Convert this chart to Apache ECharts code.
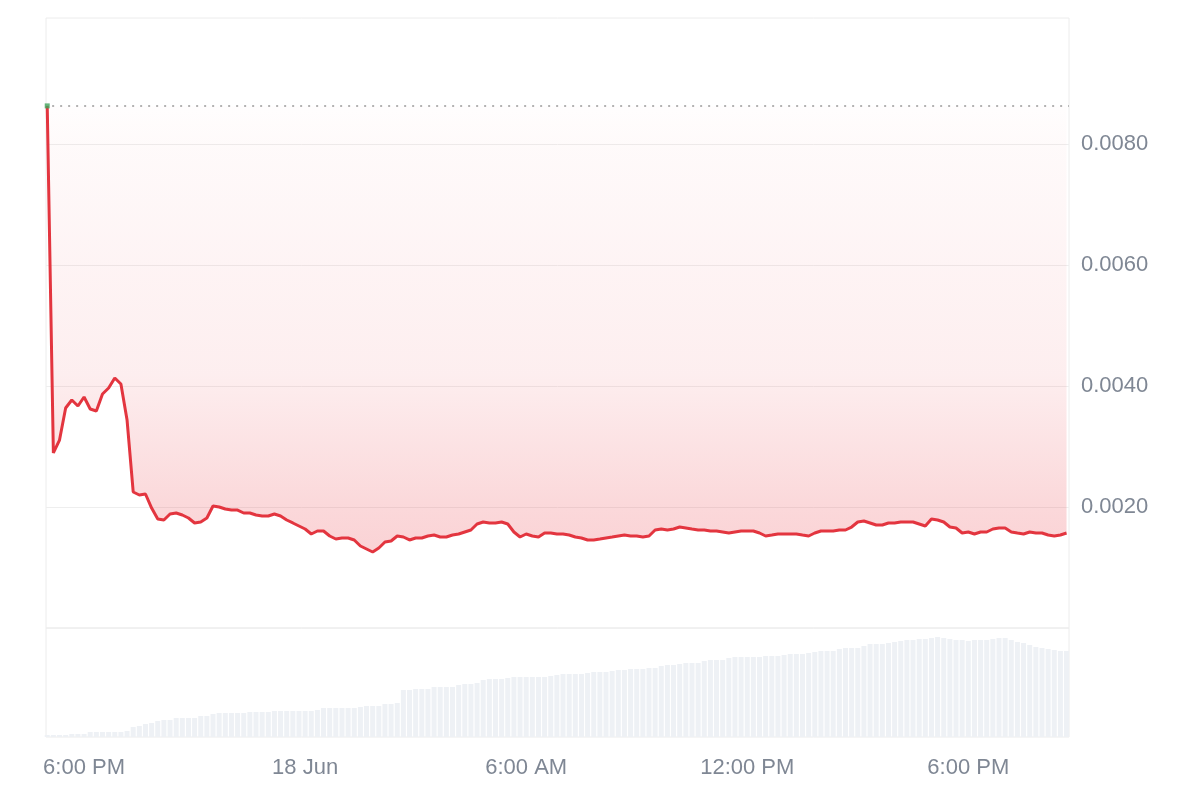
<!DOCTYPE html>
<html>
<head>
<meta charset="utf-8">
<script src="https://cdn.jsdelivr.net/npm/echarts@6/dist/echarts.min.js"></script>
<style>
html,body{margin:0;padding:0;background:#fff;}
#chart{width:1197px;height:798px;}
</style>
</head>
<body>
<div id="chart"></div>
<script>
// ---- data ----
const startTime = '2024-06-17T17:00:00Z';
const stepMinutes = 10;
const prices = [
0.00863, 0.002893, 0.003107, 0.003636, 0.003769, 0.003669, 0.003818, 0.003620, 0.003587, 0.003868,
0.003967, 0.004132, 0.004033, 0.003438, 0.002248, 0.002198, 0.002215, 0.001983, 0.001802, 0.001785,
0.001884, 0.001901, 0.001868, 0.001818, 0.001736, 0.001752, 0.001818, 0.002017, 0.002000, 0.001967,
0.001950, 0.001950, 0.001901, 0.001901, 0.001868, 0.001851, 0.001851, 0.001884, 0.001851, 0.001785,
0.001736, 0.001686, 0.001636, 0.001554, 0.001603, 0.001603, 0.001521, 0.001471, 0.001488, 0.001488,
0.001455, 0.001355, 0.001306, 0.001256, 0.001322, 0.001421, 0.001438, 0.001521, 0.001504, 0.001455,
0.001488, 0.001488, 0.001521, 0.001537, 0.001504, 0.001504, 0.001537, 0.001554, 0.001587, 0.001620,
0.001719, 0.001752, 0.001736, 0.001736, 0.001752, 0.001719, 0.001587, 0.001504, 0.001554, 0.001521,
0.001504, 0.001570, 0.001570, 0.001554, 0.001554, 0.001537, 0.001504, 0.001488, 0.001455, 0.001455,
0.001471, 0.001488, 0.001504, 0.001521, 0.001537, 0.001521, 0.001521, 0.001504, 0.001521, 0.001620,
0.001636, 0.001620, 0.001636, 0.001669, 0.001653, 0.001636, 0.001620, 0.001620, 0.001603, 0.001603,
0.001587, 0.001570, 0.001587, 0.001603, 0.001603, 0.001603, 0.001570, 0.001521, 0.001537, 0.001554,
0.001554, 0.001554, 0.001554, 0.001537, 0.001521, 0.001570, 0.001603, 0.001603, 0.001603, 0.001620,
0.001620, 0.001669, 0.001752, 0.001769, 0.001736, 0.001702, 0.001702, 0.001736, 0.001736, 0.001752,
0.001752, 0.001752, 0.001719, 0.001686, 0.001802, 0.001785, 0.001752, 0.001669, 0.001653, 0.001570,
0.001587, 0.001554, 0.001587, 0.001587, 0.001636, 0.001653, 0.001653, 0.001587, 0.001570, 0.001554,
0.001587, 0.001570, 0.001570, 0.001537, 0.001521, 0.001537, 0.001570
];
// volume, in units of 10K USD
const volumes = [
2,2,2,2,3,3,3,5,5,5,
5,5,5,6,10,11,13,14,16,17,
17,19,19,19,19,21,21,23,24,24,
24,24,24,25,25,25,25,26,26,26,
26,26,26,26,27,29,29,29,29,29,
29,30,31,31,31,33,33,34,47,47,
48,48,48,50,50,50,50,52,53,53,
54,57,58,58,58,59,60,60,60,60,
60,60,61,62,63,63,63,63,64,65,
65,65,66,67,67,68,68,68,69,69,
71,72,72,73,74,74,74,76,77,77,
77,79,80,80,80,80,80,81,81,81,
82,83,83,83,84,85,86,86,86,88,
89,89,89,91,93,93,93,94,95,96,
97,97,98,98,99,100,99,98,97,97,
96,97,97,97,98,99,99,97,95,94,
92,90,89,88,87,86,86
];
const tickTimes = ['2024-06-17T18:00:00Z','2024-06-18T00:00:00Z','2024-06-18T06:00:00Z','2024-06-18T12:00:00Z','2024-06-18T18:00:00Z'];
const tickLabels = ['6:00 PM','18 Jun','6:00 AM','12:00 PM','6:00 PM'];
const priceTicks = [0.002, 0.004, 0.006, 0.008];

// ---- build ----
const t0 = Date.parse(startTime);
const step = stepMinutes * 60000;
const times = prices.map((_, i) => t0 + i * step);
const priceData = prices.map((p, i) => [times[i], p]);
const volData = volumes.map((v, i) => [times[i], v]);
const tickVals = tickTimes.map(t => Date.parse(t));
const startPrice = prices[0];
const xMin = t0 - 2 * 60000;
const xMax = t0 + 1664 * 60000;
const baseLine = [[t0 + 8 * 60000, startPrice], [xMax, startPrice]];

const labelColor = '#7f8794';
const lineColor = '#e3353f';
const font = 'Liberation Sans, Arial, sans-serif';

const chart = echarts.init(document.getElementById('chart'), null, {renderer: 'canvas'});
chart.setOption({
  animation: false,
  backgroundColor: '#fff',
  grid: [
    {left: 46, right: 128, top: 18, height: 610, show: true, borderColor: '#ececec', borderWidth: 1},
    {left: 46, right: 128, top: 628, height: 109, show: true, borderColor: '#ececec', borderWidth: 1}
  ],
  xAxis: [
    {type: 'value', gridIndex: 0, min: xMin, max: xMax, show: false, splitLine: {show: false}},
    {type: 'value', gridIndex: 1, min: xMin, max: xMax,
     axisLine: {show: false}, axisTick: {show: false}, splitLine: {show: false},
     axisLabel: {
       customValues: tickVals,
       color: labelColor, fontSize: 22, fontFamily: font, margin: 20,
       formatter: function (v) {
         let best = 0, bd = Infinity;
         tickVals.forEach((t, i) => { const d = Math.abs(t - v); if (d < bd) { bd = d; best = i; } });
         return tickLabels[best];
       }
     }}
  ],
  yAxis: [
    {type: 'value', gridIndex: 0, position: 'right', min: 0, max: 610 / 121 * 0.002,
     axisLine: {show: false},
     axisTick: {show: false, customValues: priceTicks},
     splitLine: {show: true, lineStyle: {color: '#eeeeee', width: 1}},
     axisLabel: {
       customValues: priceTicks,
       color: labelColor, fontSize: 22, fontFamily: font, margin: 12,
       formatter: v => v.toFixed(4)
     }},
    {type: 'value', gridIndex: 1, min: 0, max: 109, show: false, splitLine: {show: false}}
  ],
  series: [
    {
      type: 'bar', xAxisIndex: 1, yAxisIndex: 1, data: volData,
      barWidth: 5,
      itemStyle: {color: '#eef1f5'},
      silent: true
    },
    {
      type: 'line', xAxisIndex: 0, yAxisIndex: 0, data: baseLine,
      symbol: 'none', silent: true,
      lineStyle: {color: '#9a9a9a', type: [2, 6], width: 1.5},
      z: 2
    },
    {
      type: 'line', xAxisIndex: 0, yAxisIndex: 0, data: priceData,
      symbol: 'none', smooth: false,
      lineStyle: {color: lineColor, width: 3},
      areaStyle: {
        origin: startPrice,
        color: new echarts.graphic.LinearGradient(0, 0, 0, 1, [
          {offset: 0, color: 'rgba(234,57,67,0.01)'},
          {offset: 0.1, color: 'rgba(234,57,67,0.04)'},
          {offset: 0.6, color: 'rgba(234,57,67,0.12)'},
          {offset: 0.88, color: 'rgba(234,57,67,0.27)'},
          {offset: 1, color: 'rgba(234,57,67,0.32)'}
        ])
      },
      z: 3
    },
    {
      type: 'scatter', xAxisIndex: 0, yAxisIndex: 0,
      data: [priceData[0]], symbol: 'rect', symbolSize: 5,
      itemStyle: {color: '#3fa45b'}, z: 5, silent: true
    }
  ]
});
</script>
</body>
</html>
